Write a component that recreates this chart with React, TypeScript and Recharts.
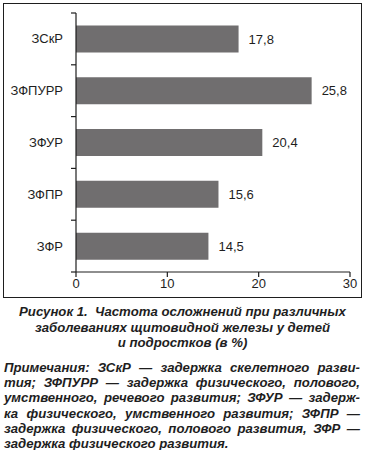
import { Bar, BarChart, LabelList, XAxis, YAxis } from 'recharts'

const categories = ['ЗСкР', 'ЗФПУРР', 'ЗФУР', 'ЗФПР', 'ЗФР']
const values = [17.8, 25.8, 20.4, 15.6, 14.5]
const xTicks = [0, 10, 20, 30]

const captionLines = ['Рисунок 1.  Частота осложнений при различных', 'заболеваниях щитовидной железы у детей', 'и подростков (в %)']
const noteLines = [
  'Примечания: ЗСкР — задержка скелетного разви-',
  'тия; ЗФПУРР — задержка физического, полового,',
  'умственного, речевого развития; ЗФУР — задерж-',
  'ка физического, умственного развития; ЗФПР —',
  'задержка физического, полового развития, ЗФР —',
  'задержка физического развития.',
]

const data = categories.map((name, i) => ({ name, value: values[i] }))
const ink = '#1e1e1e'
const band = (272 - 13) / categories.length

function CategoryTick(props: any) {
  const { y, payload, index } = props
  return (
    <g>
      <line x1={71} x2={76} y1={y - band / 2} y2={y - band / 2} stroke={ink} strokeWidth={1.2} />
      {index === categories.length - 1 ? <line x1={71} x2={76} y1={y + band / 2} y2={y + band / 2} stroke={ink} strokeWidth={1.2} /> : null}
      <text x={63} y={y} dy={4.5} textAnchor="end" fill={ink} fontSize={13} fontFamily="'Liberation Sans', Arial, sans-serif">{payload.value}</text>
    </g>
  )
}

export default function App() {
  const font = "'Liberation Sans', Arial, sans-serif"
  return (
    <div style={{ position: 'absolute', left: 0, top: 0, width: 365, height: 450, background: '#fff', fontFamily: font, color: ink }}>
      <div style={{ position: 'absolute', left: 3, top: 3, width: 359, height: 295, border: `1.5px solid ${ink}`, boxSizing: 'border-box' }} />
      <div style={{ position: 'absolute', left: 0, top: 0 }}>
        <BarChart width={365} height={300} data={data} layout="vertical" margin={{ top: 13, right: 15, bottom: 8, left: 16 }} barCategoryGap="24%">
          <XAxis type="number" domain={[0, 30]} ticks={xTicks} stroke={ink} tickSize={5} tick={{ fill: ink, fontSize: 13, fontFamily: font }} height={20} strokeWidth={1.2} />
          <YAxis type="category" dataKey="name" width={60} stroke={ink} tickLine={false} tick={<CategoryTick />} strokeWidth={1.2} />
          <Bar dataKey="value" fill="#706e6f" isAnimationActive={false}>
            <LabelList dataKey="value" position="right" offset={10} fill={ink} fontSize={13} fontFamily={font} formatter={(v: any) => String(v).replace('.', ',')} />
          </Bar>
        </BarChart>
      </div>
      <div style={{ position: 'absolute', left: 0, top: 304, width: 365, textAlign: 'center', fontWeight: 'bold', fontStyle: 'italic', fontSize: 13.2, lineHeight: '15.7px' }}>
        {captionLines.map((line) => <div key={line} style={{ whiteSpace: 'pre' }}>{line}</div>)}
      </div>
      <div style={{ position: 'absolute', left: 4, top: 360, width: 356, fontWeight: 'bold', fontStyle: 'italic', fontSize: 13.2, lineHeight: '15.2px' }}>
        {noteLines.map((line, i) => (
          <div key={line} style={{ textAlign: 'justify', textAlignLast: i === noteLines.length - 1 ? 'left' : 'justify', whiteSpace: 'nowrap' }}>{line}</div>
        ))}
      </div>
    </div>
  )
}
